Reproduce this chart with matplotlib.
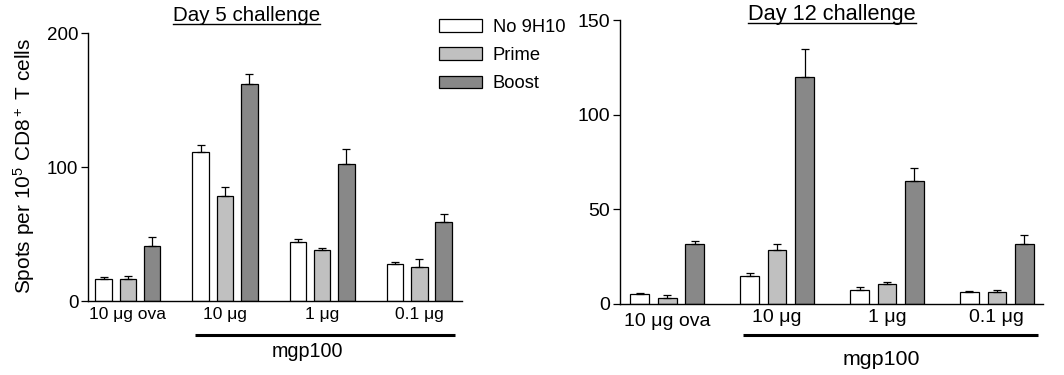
import numpy as np
import matplotlib
matplotlib.use("Agg")
import matplotlib.pyplot as plt
import matplotlib.transforms as mtransforms

plt.rcParams['font.family'] = ['Liberation Sans', 'DejaVu Sans']
plt.rcParams['mathtext.fontset'] = 'custom'
plt.rcParams['mathtext.rm'] = 'Liberation Sans'
plt.rcParams['mathtext.it'] = 'Liberation Sans:italic'

groups = ["10 μg ova", "10 μg", "1 μg", "0.1 μg"]
series = ["No 9H10", "Prime", "Boost"]
colors = ["#ffffff", "#c0c0c0", "#888888"]

# Day 5 challenge
d5_mean = {
    "No 9H10": [16.7, 111.4, 43.8, 27.4],
    "Prime": [16.7, 78.1, 37.8, 25.6],
    "Boost": [40.8, 162.2, 102.5, 58.7],
}
d5_err = {
    "No 9H10": [1.0, 5.0, 2.7, 2.0],
    "Prime": [1.7, 6.9, 1.8, 6.0],
    "Boost": [6.7, 7.0, 10.9, 6.0],
}

# Day 12 challenge
d12_mean = {
    "No 9H10": [5.3, 14.5, 7.2, 6.0],
    "Prime": [3.0, 28.2, 10.2, 6.0],
    "Boost": [31.7, 120.0, 64.7, 31.7],
}
d12_err = {
    "No 9H10": [0.5, 1.5, 1.6, 0.5],
    "Prime": [1.4, 3.5, 1.4, 1.4],
    "Boost": [1.6, 14.8, 7.2, 4.8],
}

fig = plt.figure(figsize=(10.64, 3.75), dpi=100)
ax1 = fig.add_axes([0.0827, 0.1973, 0.3515, 0.7147])
ax2 = fig.add_axes([0.5827, 0.190, 0.3976, 0.7565])

x = np.arange(len(groups))
pitch = 0.25
width = 0.17


def draw(ax, means, errs, ymax, yticks, xlim, fs_x, fs_y):
    for i, s in enumerate(series):
        pos = x + (i - 1) * pitch
        m = np.array(means[s])
        e = np.array(errs[s])
        ax.bar(pos, m, width, color=colors[i], edgecolor="black",
               linewidth=0.9, label=s, zorder=2)
        ax.errorbar(pos, m, yerr=[np.zeros_like(e), e], fmt="none",
                    ecolor="black", elinewidth=0.9, capsize=3,
                    capthick=0.9, zorder=3)
    ax.set_xlim(*xlim)
    ax.set_ylim(0, ymax)
    ax.set_yticks(yticks)
    ax.set_xticks(x)
    ax.set_xticklabels(groups, fontsize=fs_x)
    ax.tick_params(axis="x", length=0, pad=4)
    ax.tick_params(axis="y", length=5, width=0.9, pad=2, labelsize=fs_y)
    for sp in ["top", "right"]:
        ax.spines[sp].set_visible(False)
    for sp in ["left", "bottom"]:
        ax.spines[sp].set_linewidth(1.0)


draw(ax1, d5_mean, d5_err, 200, [0, 100, 200], (-0.41, 3.44), 12.5, 13.5)
draw(ax2, d12_mean, d12_err, 150, [0, 50, 100, 150], (-0.43, 3.42), 14, 14)

ax1.set_ylabel(r"Spots per 10$^5$ CD8$^+$ T cells", fontsize=15)
ax1.yaxis.set_label_coords(-0.136, 0.505)

# "mgp100" bracket lines under the x axis
for ax, y_line, y_text, xt, fs in [(ax1, -0.127, -0.187, 1.85, 14.2),
                                   (ax2, -0.110, -0.198, 1.95, 15.4)]:
    tr = mtransforms.blended_transform_factory(ax.transData, ax.transAxes)
    ax.plot([0.69, 3.37], [y_line, y_line], color="black", lw=2.2,
            transform=tr, clip_on=False, solid_capstyle="butt")
    ax.text(xt, y_text, "mgp100", transform=tr, ha="center", va="center",
            fontsize=fs)

# shift first label on right panel down a little
lbl = ax2.get_xticklabels()[0]
lbl.set_transform(lbl.get_transform() + mtransforms.ScaledTranslation(0, -3 / 72, fig.dpi_scale_trans))

# underlined titles
fig.canvas.draw()
renderer = fig.canvas.get_renderer()
for xc, yc, title, fs in [(0.232, 0.958, "Day 5 challenge", 14.8),
                          (0.782, 0.962, "Day 12 challenge", 15.7)]:
    t = fig.text(xc, yc, title, ha="center", va="center", fontsize=fs)
    bb = t.get_window_extent(renderer).transformed(fig.transFigure.inverted())
    fig.add_artist(plt.Line2D([bb.x0, bb.x1], [bb.y0 + 0.004, bb.y0 + 0.004],
                              color="black", lw=1.0, transform=fig.transFigure))

handles, labels = ax1.get_legend_handles_labels()
fig.legend(handles, labels, loc="upper left", bbox_to_anchor=(0.413, 0.95),
           frameon=False, fontsize=13.2, handlelength=2.3, handleheight=0.7,
           labelspacing=0.62, handletextpad=0.6, borderpad=0, borderaxespad=0)

fig.savefig("out.png", dpi=100)
